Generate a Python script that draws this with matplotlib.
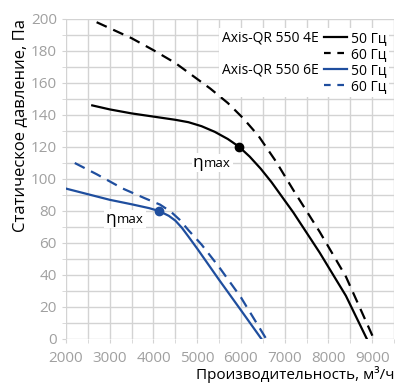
import matplotlib
matplotlib.use('Agg')
import matplotlib.pyplot as plt
from matplotlib.lines import Line2D
from matplotlib.patches import Rectangle
from matplotlib.ticker import MultipleLocator

plt.rcParams['font.family'] = ['Open Sans', 'DejaVu Sans']

# Axis-QR 550 4E
q_4e_50 = [2600, 3000, 3500, 4000, 4500, 4800, 5100, 5400, 5700, 5955, 6200,
           6450, 6700, 7200, 7800, 8400, 8880]
p_4e_50 = [146, 143.5, 141, 139, 137, 135.5, 133, 129.5, 125, 120.2, 114,
           106.5, 98, 79, 54, 27, 0]
q_4e_60 = [2700, 3500, 4000, 4500, 4950, 5300, 5700, 6050, 6400, 6800, 7200,
           7800, 8400, 9040]
p_4e_60 = [198, 188, 180.5, 172.5, 163.5, 156.5, 147.5, 138, 127, 111, 93,
           67, 39, 0]

# Axis-QR 550 6E
q_6e_50 = [2000, 2500, 3000, 3500, 3900, 4127, 4350, 4500, 4650, 4800, 5000,
           5500, 6000, 6470]
p_6e_50 = [94, 90.5, 87, 84.2, 81.8, 80, 77, 74, 69.5, 64, 56.5, 37, 18, 0]
q_6e_60 = [2200, 2700, 3300, 3800, 4150, 4400, 4600, 4800, 5100, 5500, 6000,
           6580]
p_6e_60 = [110, 103, 94, 88, 84, 79.5, 74.5, 68, 59, 45, 26, 0]

eta_4e = (5955, 120.2)
eta_6e = (4127, 80)
eta_label_pos = [(5145, 107.7), (3152, 72.7)]

models = ['Axis-QR 550 4E', 'Axis-QR 550 6E']
freqs = ['50 Гц', '60 Гц', '50 Гц', '60 Гц']

x_ticks = [2000, 3000, 4000, 5000, 6000, 7000, 8000, 9000]
y_ticks = [0, 20, 40, 60, 80, 100, 120, 140, 160, 180, 200]

blue = '#1f4e9e'
grid_c = '#d3d3d3'
tick_c = '#a0a0a0'
dash = (0, (5.0, 3.2))

fig = plt.figure(figsize=(3.96, 3.86), dpi=100)
ax = fig.add_axes([66/396, 47/386, 328/396, 320/386])

ax.plot(q_4e_50, p_4e_50, color='black', lw=1.6, zorder=3)
ax.plot(q_4e_60, p_4e_60, color='black', lw=1.6, ls=dash, zorder=3)
ax.plot(q_6e_50, p_6e_50, color=blue, lw=1.6, zorder=3)
ax.plot(q_6e_60, p_6e_60, color=blue, lw=1.6, ls=dash, zorder=3)
ax.plot(*eta_4e, 'o', color='black', ms=6, zorder=4)
ax.plot(*eta_6e, 'o', color=blue, ms=6, zorder=4)

# eta max labels
for (qx, py) in eta_label_pos:
    ax.text(qx, py, 'max', fontsize=9.5, ha='left', va='baseline', zorder=5,
            bbox=dict(fc='white', ec='none', pad=2))
    ax.text(qx, py, 'η', fontsize=12.5, ha='right', va='baseline', zorder=5.2,
            bbox=dict(fc='white', ec='none', pad=1))

ax.set_xlim(2000, 9500)
ax.set_ylim(0, 200)
ax.set_xticks(x_ticks)
ax.set_yticks(y_ticks)
ax.xaxis.set_minor_locator(MultipleLocator(500))
ax.yaxis.set_minor_locator(MultipleLocator(10))
ax.grid(True, which='both', color=grid_c, lw=1)
ax.set_axisbelow(True)
for s in ax.spines.values():
    s.set_visible(False)
ax.tick_params(which='both', length=3, color=grid_c, labelcolor=tick_c,
               labelsize=11)
ax.tick_params(axis='x', which='major', pad=5.5)
ax.tick_params(axis='y', which='major', pad=3.5)

ax.set_xlabel('Производительность, м³/ч', loc='right', fontsize=11, labelpad=0)
ax.set_ylabel('Статическое давление, Па', loc='top', fontsize=12, labelpad=2)

handles = [Line2D([], [], color='black', lw=1.6),
           Line2D([], [], color='black', lw=1.6, ls=(0, (3.0, 3.0))),
           Line2D([], [], color=blue, lw=1.6),
           Line2D([], [], color=blue, lw=1.6, ls=(0, (3.0, 3.0)))]
leg = ax.legend(handles, freqs, loc='upper right', bbox_to_anchor=(0.985, 0.972),
                fontsize=10, frameon=True, fancybox=False, framealpha=1,
                edgecolor='none', handlelength=1.6, handletextpad=0.3,
                labelspacing=0.08, borderpad=0.2, borderaxespad=0)
leg.set_zorder(6)

# model names to the left of the legend rows
fig.canvas.draw()
r = fig.canvas.get_renderer()
inv = ax.transAxes.inverted()
boxes = [leg.get_frame().get_window_extent(r)]
for i, name in zip([0, 2], models):
    tb = leg.get_texts()[i].get_window_extent(r)
    hb = leg.legend_handles[i].get_window_extent(r)
    x, y = inv.transform((hb.x0 - 6, (tb.y0 + tb.y1) / 2))
    t = ax.text(x, y, name, transform=ax.transAxes, ha='right', va='center',
                fontsize=10, zorder=7)
    boxes.append(t.get_window_extent(r))
x0 = min(b.x0 for b in boxes) - 3
y0 = min(b.y0 for b in boxes)
x1 = max(b.x1 for b in boxes)
y1 = max(b.y1 for b in boxes)
(ax0, ay0), (ax1, ay1) = inv.transform([(x0, y0), (x1, y1)])
ax.add_patch(Rectangle((ax0, ay0), ax1 - ax0, ay1 - ay0, transform=ax.transAxes,
                       fc='white', ec='none', zorder=5.5))

fig.savefig('out.png', dpi=100)
